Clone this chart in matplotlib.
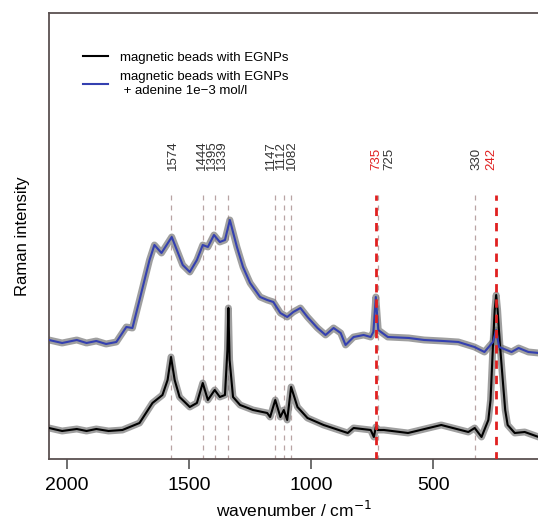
import matplotlib
matplotlib.use("Agg")
import matplotlib.pyplot as plt
import numpy as np

plt.rcParams['font.family'] = ['Liberation Sans', 'DejaVu Sans']

# spectrum with adenine (blue), arbitrary units
wn_blue = [2074, 2020, 1960, 1920, 1880, 1840, 1798, 1757, 1732, 1703, 1662, 1642, 1613, 1571,
           1526, 1497, 1468, 1444, 1423, 1398, 1374, 1353, 1333, 1304, 1279, 1250, 1209, 1180,
           1155, 1126, 1098, 1073, 1044, 1015, 974, 941, 908, 879, 859, 826, 785, 756, 745,
           735, 725, 686, 600, 537, 460, 397, 331, 290, 255, 242, 230, 179, 150, 110, 68]
int_blue = [120, 117, 120, 117, 119, 116, 118, 133, 132, 160, 200, 215, 207, 223,
            195, 188, 200, 215, 213, 225, 218, 220, 240, 213, 193, 177, 163, 160,
            158, 147, 143, 148, 152, 143, 132, 125, 132, 127, 115, 123, 125, 123, 128,
            163, 130, 123, 122, 120, 119, 118, 113, 108, 118, 130, 113, 108, 112, 108, 107]

# spectrum without adenine (black)
wn_black = [2074, 2020, 1960, 1920, 1880, 1830, 1773, 1703, 1650, 1609, 1588, 1574, 1559, 1539,
            1497, 1468, 1444, 1423, 1395, 1374, 1353, 1343, 1339, 1334, 1320, 1291, 1238, 1180,
            1168, 1147, 1126, 1112, 1098, 1082, 1056, 1015, 949, 850, 826, 756, 743, 735, 727,
            702, 603, 467, 356, 330, 302, 274, 265, 255, 248, 242, 236, 228, 215, 205,
            195, 166, 125, 68]
int_black = [32, 29, 31, 29, 31, 29, 30, 37, 57, 65, 80, 103, 80, 63,
             53, 57, 77, 60, 70, 63, 65, 110, 152, 100, 63, 55, 50, 47,
             43, 60, 43, 50, 40, 73, 53, 42, 35, 27, 32, 30, 23, 33, 30,
             30, 27, 35, 28, 32, 23, 40, 60, 115, 150, 165, 150, 120, 80, 50,
             35, 27, 28, 23]

band_pos = [1574, 1444, 1395, 1339, 1147, 1112, 1082, 735, 725, 330, 242]
band_red = [False, False, False, False, False, False, False, True, False, False, True]

# band labels: stacked groups of close bands share one block
label_txt = ['1574', '1444\n1395\n1339', '1147\n1112\n1082', '735', '725', '330', '242']
label_red = [False, False, False, True, False, False, True]
label_x = [1567, 1407, 1122, 733, 680, 323, 261]

fig = plt.figure(figsize=(5.38, 5.28), dpi=100)
ax = fig.add_axes([0.091, 0.1307, 0.912, 0.8447])

for p, red in zip(band_pos, band_red):
    if red:
        ax.plot([p, p], [0, 265], color='#e02020', lw=2.0, ls=(0, (3, 2.5)), zorder=4)
    else:
        ax.plot([p, p], [0, 265], color='#b8a4a4', lw=0.9, ls=(0, (4, 4)), zorder=1)

for lx, t, red in zip(label_x, label_txt, label_red):
    ax.text(lx, 290, t, rotation=90, ha='center', va='bottom', fontsize=9.5,
            linespacing=0.8, color='#e02020' if red else '#333333')

ax.plot(wn_black, int_black, color='#777777', lw=5, alpha=0.7, solid_joinstyle='round', zorder=2)
ax.plot(wn_black, int_black, color='black', lw=1.5, zorder=3, label='magnetic beads with EGNPs')
ax.plot(wn_blue, int_blue, color='#777777', lw=5, alpha=0.7, solid_joinstyle='round', zorder=2)
ax.plot(wn_blue, int_blue, color='#3440b0', lw=1.5, zorder=3,
        label='magnetic beads with EGNPs\n + adenine 1e\u22123 mol/l')

ax.set_xlim(2074, 64)
ax.set_ylim(1, 447)
ax.set_xticks([2000, 1500, 1000, 500])
ax.tick_params(axis='x', labelsize=14, length=7, width=1.2, color='#555555', pad=6)
ax.set_yticks([])
for s in ax.spines.values():
    s.set_color('#5a5050')
    s.set_linewidth(1.3)

ax.set_xlabel('wavenumber / cm$^{-1}$', fontsize=12.5, labelpad=4)
ax.set_ylabel('Raman intensity', fontsize=12, labelpad=14)

ax.legend(loc='upper left', bbox_to_anchor=(0.045, 0.94), frameon=False, fontsize=9.5,
          handlelength=1.9, handletextpad=0.9, labelspacing=0.55)

fig.savefig('out.png', dpi=100)
